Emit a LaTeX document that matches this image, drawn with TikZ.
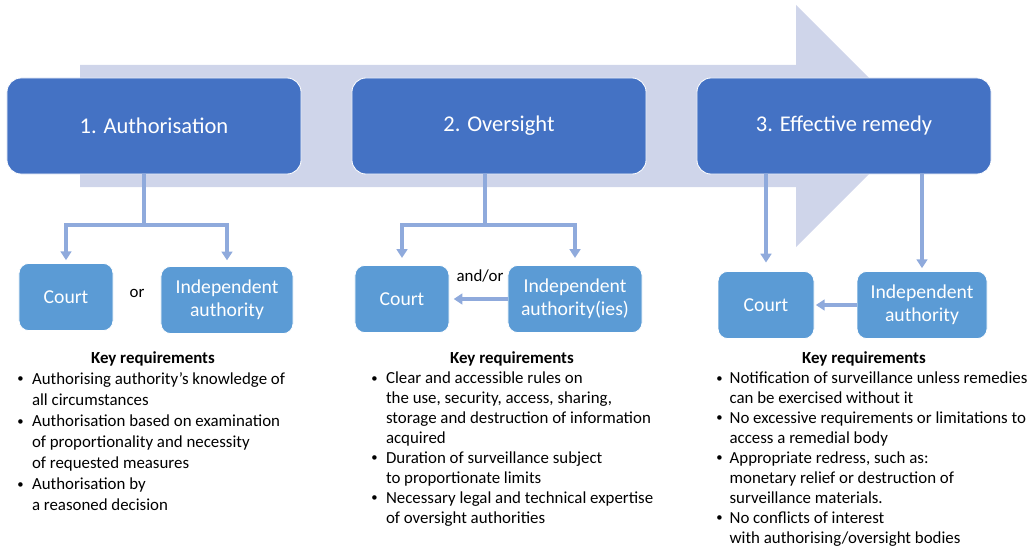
\documentclass[tikz,border=0pt]{standalone}
\usepackage{fontspec}
\setmainfont{Carlito}
\usepackage{xcolor}
\usetikzlibrary{arrows.meta, positioning}

\definecolor{headblue}{HTML}{4472C4}
\definecolor{boxblue}{HTML}{5B9BD5}
\definecolor{flowlav}{HTML}{CFD5EA}
\definecolor{linkblue}{HTML}{8FAADC}

\newcommand{\keydot}{\raisebox{0.15ex}{\fontsize{9}{9}\selectfont\textbullet}}

\begin{document}
\begin{tikzpicture}[
    x=0.025cm, y=-0.025cm,
    % Stage headers - dark blue
    stage/.style={
        rectangle, draw=white, rounded corners=10pt,
        minimum width=7.35cm, minimum height=2.4cm,
        align=center, fill=headblue, text=white,
        font=\fontsize{16}{19}\selectfont,
        line width=0.6pt
    },
    % Bodies - lighter blue
    body/.style={
        rectangle, draw=white, rounded corners=7pt,
        minimum width=3.3cm, minimum height=1.68cm,
        align=center, fill=boxblue, text=white,
        font=\fontsize{14}{16.5}\selectfont,
        line width=0.6pt
    },
    link/.style={linkblue, line width=2.4pt},
    arrow/.style={-{Triangle[length=0.22cm, width=0.27cm]}, linkblue, line width=2.4pt},
    label/.style={font=\fontsize{12}{14}\selectfont},
    keyhead/.style={font=\fontsize{12}{14}\selectfont\bfseries},
    keylist/.style={anchor=north west, inner sep=0pt, align=left},
]
\useasboundingbox (0,0) rectangle (1029,551);

% Flow arrow behind the stages
\fill[flowlav] (80,65) -- (796,65) -- (796,5) -- (917,126) -- (796,247)
    -- (796,187) -- (80,187) -- cycle;

% Stages - top row
\node[stage] (authorise) at (154,126) {1. Authorisation};
\node[stage] (oversee) at (499,126) {2. Oversight};
\node[stage] (remedy) at (844,126) {3. Effective remedy};

% Bodies - second row
\node[body, minimum width=2.35cm] (court1) at (66,297) {Court};
\node[body] (indep1) at (227,300) {Independent\\authority};
\node[body, minimum width=2.35cm] (court2) at (402,299) {Court};
\node[body, minimum width=3.35cm] (indep2) at (575,299) {Independent\\authority(ies)};
\node[body, minimum width=2.4cm] (court3) at (766,305) {Court};
\node[body, minimum width=3.25cm] (indep3) at (922,305) {Independent\\authority};

\node[label] (or1) at (137,293) {or};
\node[label] (andor) at (480,276) {and/or};

% Forks under the first two stages
\coordinate (fork1) at (144,225);
\coordinate (fork2) at (485,225);
\draw[link] (authorise.south -| fork1) -- (fork1);
\draw[arrow, shorten >=2pt] (fork1) -| (court1.north);
\draw[arrow, shorten >=4pt] (fork1) -| (indep1.north);
\draw[link] (oversee.south -| fork2) -- (fork2);
\draw[arrow, shorten >=5pt] (fork2) -| (court2.north);
\draw[arrow, shorten >=5pt] (fork2) -| (indep2.north);

% Straight drops under the third stage
\draw[arrow, shorten >=6pt] (remedy.south -| court3) -- (court3.north);
\draw[arrow, shorten >=2pt] (remedy.south -| indep3) -- (indep3.north);

% Authorities report to the court
\draw[arrow, shorten >=3pt] (indep2.west) -- (indep2.west -| court2.east);
\draw[arrow, shorten >=1pt] (indep3.west) -- (indep3.west -| court3.east);

% Key requirements
\node[keyhead] (key1) at (153,359) {Key requirements};
\node[keylist, font=\fontsize{12}{15}\selectfont] (list1) at (17,369) {%
\begin{tabular}{@{}c@{\hspace{6pt}}l@{}}
\keydot & Authorising authority’s knowledge of\\
 & all circumstances\\
\keydot & Authorisation based on examination\\
 & of proportionality and necessity\\
 & of requested measures\\
\keydot & Authorisation by\\
 & a reasoned decision
\end{tabular}};

\node[keyhead] (key2) at (512,359) {Key requirements};
\node[keylist, font=\fontsize{12}{14.2}\selectfont] (list2) at (371,369) {%
\begin{tabular}{@{}c@{\hspace{6pt}}l@{}}
\keydot & Clear and accessible rules on\\
 & the use, security, access, sharing,\\
 & storage and destruction of information\\
 & acquired\\
\keydot & Duration of surveillance subject\\
 & to proportionate limits\\
\keydot & Necessary legal and technical expertise\\
 & of oversight authorities
\end{tabular}};

\node[keyhead] (key3) at (864,359) {Key requirements};
\node[keylist, font=\fontsize{12}{14.2}\selectfont] (list3) at (716,369) {%
\begin{tabular}{@{}c@{\hspace{5pt}}l@{}}
\keydot & Notification of surveillance unless remedies\\
 & can be exercised without it\\
\keydot & No excessive requirements or limitations to\\
 & access a remedial body\\
\keydot & Appropriate redress, such as:\\
 & monetary relief or destruction of\\
 & surveillance materials.\\
\keydot & No conflicts of interest\\
 & with authorising/oversight bodies
\end{tabular}};

\end{tikzpicture}
\end{document}
